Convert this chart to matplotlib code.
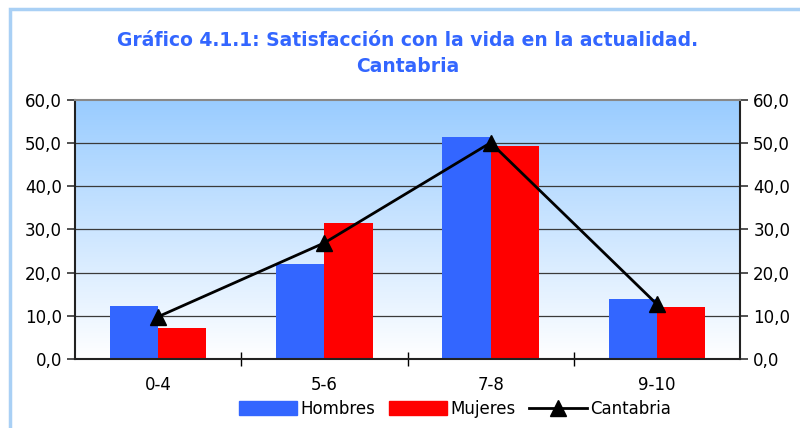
import numpy as np
import matplotlib
matplotlib.use("Agg")
import matplotlib.pyplot as plt
from matplotlib.patches import Patch, Rectangle
from matplotlib.lines import Line2D
from matplotlib.ticker import FuncFormatter

categories = ["0-4", "5-6", "7-8", "9-10"]
hombres = [12.3, 22.1, 51.5, 14.0]
mujeres = [7.2, 31.4, 49.3, 12.0]
cantabria = [9.8, 26.9, 50.1, 12.7]
yticks = [0, 10, 20, 30, 40, 50, 60]

plt.rcParams['font.family'] = ['DejaVu Sans']

fig = plt.figure(figsize=(8, 4.28), dpi=100)
fig.patch.set_facecolor("white")

# light blue frame round the chart
fig.patches.append(Rectangle((10 / 800, -0.1), 1.2, 1 - 9 / 428 + 0.1,
                             transform=fig.transFigure, fill=False,
                             edgecolor="#a9d0f5", linewidth=2.5))

ax = fig.add_axes([75 / 800, 1 - 359 / 428, 665 / 800, 259 / 428])

x = np.arange(len(categories))
w = 0.29

# gradient background
grad = np.linspace(0, 1, 256).reshape(-1, 1)
top = np.array([0x99, 0xCC, 0xFF]) / 255
bot = np.array([1.0, 1.0, 1.0])
img = bot + (top - bot) * grad
ax.imshow(img.reshape(256, 1, 3), extent=[-0.5, 3.5, 0, 60],
          origin="lower", aspect="auto", zorder=0)

for v in yticks[1:-1]:
    ax.axhline(v, color="#3a3a3a", linewidth=0.9, zorder=1)

ax.bar(x - w / 2, hombres, w, color="#3366ff", zorder=2)
ax.bar(x + w / 2, mujeres, w, color="#ff0000", zorder=2)
ax.plot(x, cantabria, color="black", linewidth=2, marker="^",
        markersize=11, zorder=3)

ax.set_xlim(-0.5, 3.5)
ax.set_ylim(0, 60)
ax.set_yticks(yticks)
ax.yaxis.set_major_formatter(FuncFormatter(lambda v, p: f"{v:.1f}".replace(".", ",")))
ax.set_xticks(x)
ax.set_xticklabels(categories)
ax.set_xticks([0.5, 1.5, 2.5], minor=True)
ax.tick_params(axis="x", which="major", length=0, pad=12, labelsize=12)
ax.tick_params(axis="x", which="minor", length=10, direction="inout", width=1)
ax.tick_params(axis="y", length=6, direction="out", width=1.2, labelsize=12,
               right=True, labelright=True, color="#333333")

for side in ["left", "bottom", "right"]:
    ax.spines[side].set_color("#222222")
    ax.spines[side].set_linewidth(1.5)
ax.spines["top"].set_color("#888888")
ax.spines["top"].set_linewidth(1.5)

fig.text(0.51, 1 - 40 / 428, "Gráfico 4.1.1: Satisfacción con la vida en la actualidad.",
         ha="center", va="center", color="#3366ff", fontsize=13.5, fontweight="bold")
fig.text(0.51, 1 - 67 / 428, "Cantabria", ha="center", va="center", color="#3366ff",
         fontsize=13.5, fontweight="bold")

handles = [Patch(color="#3366ff", label="Hombres"),
           Patch(color="#ff0000", label="Mujeres"),
           Line2D([], [], color="black", linewidth=2, marker="^", markersize=11,
                  label="Cantabria")]
fig.legend(handles=handles, loc="center", bbox_to_anchor=(455 / 800, 1 - 409 / 428),
           ncol=3, frameon=False, fontsize=12, handlelength=3.5,
           handleheight=0.9, columnspacing=0.8, handletextpad=0.2,
           borderaxespad=0)

fig.savefig("out.png", dpi=100)
